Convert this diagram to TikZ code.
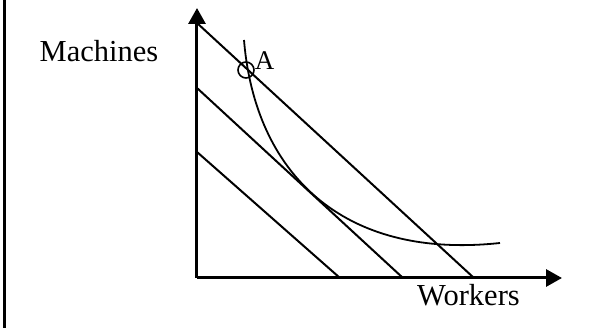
\documentclass[tikz,border=0pt]{standalone}
\usepackage{fontspec}
\setmainfont{Liberation Serif}
\usetikzlibrary{arrows.meta}
\tikzset{
  axis/.style={line width=3pt, -{Triangle[length=16pt,width=17pt]}},
  budget/.style={line width=2pt},
  isoquant/.style={line width=1.8pt},
  lbl/.style={font=\fontsize{30.5}{36}\selectfont, inner sep=0pt, anchor=base},
}
\begin{document}
\begin{tikzpicture}[x=1pt,y=1pt]
  \useasboundingbox (-197,-50) rectangle (408,278);
  % frame edge
  \draw[line width=2.6pt] (-192.3,-50) -- (-192.3,278);
  % axes
  \coordinate (O) at (0,0);
  \coordinate (ytip) at (0,270);
  \coordinate (xtip) at (365,0);
  \draw[axis] (O) -- (ytip);
  \draw[axis] (O) -- (xtip);
  \node[lbl] (machines) at (-98,216) {Machines};
  \node[lbl] (workers) at (271.5,-28) {Workers};
  % budget lines
  \foreach \n/\a/\b in {1/255/277,2/190/206,3/126/143} {
    \coordinate (b\n top) at (0,\a);
    \coordinate (b\n bot) at (\b,0);
    \draw[budget] (b\n top) -- (b\n bot);
  }
  % isoquant
  \coordinate (qstart) at (47,238);
  \coordinate (qend) at (303,35);
  \draw[isoquant] (qstart) .. controls (58,105) and (145,18) .. (qend);
  % point A
  \node[draw, circle, line width=1.6pt, minimum size=16pt, inner sep=0pt] (ptA) at (49,208) {};
  \node[lbl, font=\fontsize{27}{32}\selectfont] (labA) at (67.5,208) {A};
\end{tikzpicture}
\end{document}
